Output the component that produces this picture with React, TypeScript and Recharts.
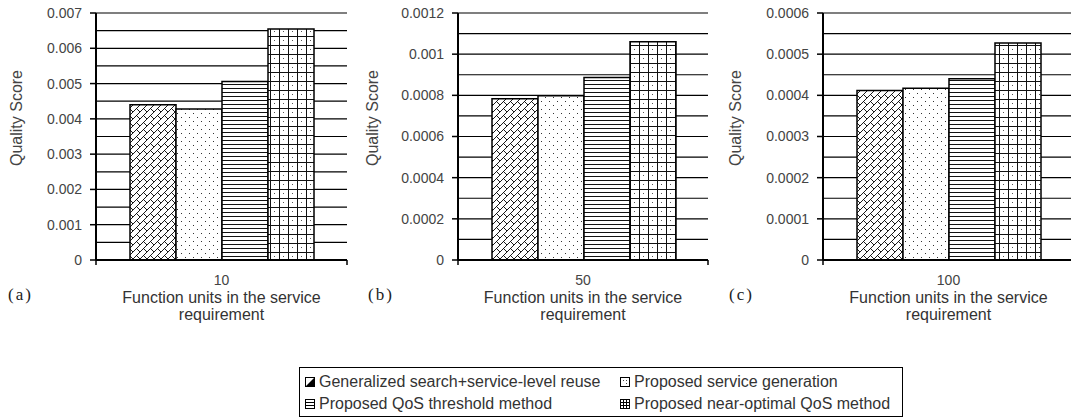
import { Bar, BarChart, CartesianGrid, XAxis, YAxis } from "recharts";

const CATEGORIES = ["10", "50", "100"];
const PANEL_TAGS = ["(a)", "(b)", "(c)"];

// one value per panel (10, 50, 100 function units)
const generalizedReuse = [0.0044, 0.000783, 0.000412];
const serviceGeneration = [0.00428, 0.000798, 0.000417];
const qosThreshold = [0.00506, 0.000887, 0.00044];
const nearOptimal = [0.00655, 0.00106, 0.000527];

const Y_TICKS_A = [0, 0.001, 0.002, 0.003, 0.004, 0.005, 0.006, 0.007];
const Y_TICKS_B = [0, 0.0002, 0.0004, 0.0006, 0.0008, 0.001, 0.0012];
const Y_TICKS_C = [0, 0.0001, 0.0002, 0.0003, 0.0004, 0.0005, 0.0006];

const SERIES = [
  { key: "reuse", name: "Generalized search+service-level reuse", values: generalizedReuse, fill: "url(#pat-brick)" },
  { key: "generation", name: "Proposed service generation", values: serviceGeneration, fill: "url(#pat-dots)" },
  { key: "threshold", name: "Proposed QoS threshold method", values: qosThreshold, fill: "url(#pat-hlines)" },
  { key: "optimal", name: "Proposed near-optimal QoS method", values: nearOptimal, fill: "url(#pat-grid)" },
];

const FONT = "'Liberation Sans', Arial, sans-serif";

const PANELS = [
  { left: 0, width: 360, axisW: 96, right: 13, ticks: Y_TICKS_A, tagX: 8, labelX: 17 },
  { left: 360, width: 360, axisW: 98, right: 12, ticks: Y_TICKS_B, tagX: 368, labelX: 373 },
  { left: 720, width: 354, axisW: 103, right: 0, ticks: Y_TICKS_C, tagX: 729, labelX: 736 },
];

function minorGrid(ticks: number[]) {
  const out: number[] = [];
  ticks.forEach((t, i) => {
    out.push(t);
    if (i < ticks.length - 1) out.push((t + ticks[i + 1]) / 2);
  });
  return out;
}

function Patterns() {
  return (
    <svg width={0} height={0} style={{ position: "absolute" }}>
      <defs>
        <pattern id="pat-brick" width={7} height={7} patternUnits="userSpaceOnUse">
          <rect width={7} height={7} fill="#fff" />
          <path d="M0,7 L7,0 M3.5,3.5 L7,7 M-1,1 L1,-1 M6,8 L8,6" stroke="#000" strokeWidth={0.9} />
        </pattern>
        <pattern id="pat-dots" width={8} height={8} patternUnits="userSpaceOnUse">
          <rect width={8} height={8} fill="#fff" />
          <rect x={1} y={1} width={1} height={1} fill="#333" />
          <rect x={5} y={5} width={1} height={1} fill="#333" />
        </pattern>
        <pattern id="pat-hlines" width={4} height={4} patternUnits="userSpaceOnUse">
          <rect width={4} height={4} fill="#fff" />
          <rect y={0} width={4} height={1} fill="#111" />
        </pattern>
        <pattern id="pat-grid" width={9} height={9} patternUnits="userSpaceOnUse">
          <rect width={9} height={9} fill="#fff" />
          <rect x={0} y={0} width={1} height={9} fill="#111" />
          <rect x={0} y={0} width={9} height={1} fill="#111" />
          <rect x={4} y={4} width={1} height={1} fill="#555" />
        </pattern>
      </defs>
    </svg>
  );
}

function LegendIcon({ kind }: { kind: string }) {
  let inner = null;
  if (kind === "reuse") inner = <path d="M1,9 L9,1 L9,9 Z" fill="#000" />;
  if (kind === "generation") inner = <path d="M3,3 h1 v1 h-1 Z M6,6 h1 v1 h-1 Z M6,3 h1 v1 h-1 Z" fill="#444" />;
  if (kind === "threshold") inner = <path d="M1,3.5 H9 M1,6.5 H9" stroke="#000" strokeWidth={1} />;
  if (kind === "optimal") inner = <path d="M1,3.5 H9 M1,6.5 H9 M3.5,1 V9 M6.5,1 V9" stroke="#000" strokeWidth={1} />;
  return (
    <svg width={10} height={10} style={{ marginRight: 4 }}>
      <rect x={0.5} y={0.5} width={9} height={9} fill="#fff" stroke="#000" strokeWidth={1} />
      {inner}
    </svg>
  );
}

function makeTick(half: number) {
  return function Tick(props: any) {
    const { x, y, payload } = props;
    return (
      <g>
        <line x1={x - half} x2={x - half} y1={y} y2={y + 5} stroke="#000" strokeWidth={1.5} />
        <line x1={x + half} x2={x + half} y1={y} y2={y + 5} stroke="#000" strokeWidth={1.5} />
        <text x={x} y={y + 25} textAnchor="middle" fontSize={14} fill="#444" fontFamily={FONT}>
          {payload.value}
        </text>
      </g>
    );
  };
}

function Panel({ index }: { index: number }) {
  const p = PANELS[index];
  const row: Record<string, number | string> = { name: CATEGORIES[index] };
  for (const s of SERIES) row[s.key] = s.values[index];
  const plotW = p.width - p.axisW - p.right;
  const top = p.ticks[p.ticks.length - 1];

  return (
    <div style={{ position: "absolute", left: p.left, top: 0 }}>
      <BarChart
        width={p.width}
        height={300}
        data={[row]}
        margin={{ top: 13, right: p.right, left: 0, bottom: 0 }}
        barCategoryGap={34}
        barGap={0}
      >
        <CartesianGrid
          vertical={false}
          horizontalValues={minorGrid(p.ticks)}
          stroke="#000"
          strokeWidth={1.2}
          strokeOpacity={1}
        />
        <XAxis
          dataKey="name"
          height={40}
          tickLine={false}
          tickSize={0}
          tickMargin={0}
          axisLine={{ stroke: "#000", strokeWidth: 2 }}
          tick={makeTick(plotW / 2)}
        />
        <YAxis
          width={p.axisW}
          domain={[0, top]}
          ticks={p.ticks}
          interval={0}
          tickSize={6}
          tickMargin={8}
          tickLine={{ stroke: "#000", strokeWidth: 1.5 }}
          axisLine={{ stroke: "#000", strokeWidth: 2 }}
          tick={{ fontSize: 14, fill: "#444", fontFamily: FONT }}
          tickFormatter={(v: number) => String(v)}
        />
        {SERIES.map((s) => (
          <Bar
            key={s.key}
            dataKey={s.key}
            name={s.name}
            fill={s.fill}
            stroke="#000"
            strokeWidth={1.5}
            isAnimationActive={false}
          />
        ))}
      </BarChart>
    </div>
  );
}

export default function App() {
  return (
    <div
      style={{
        position: "absolute",
        left: 0,
        top: 0,
        width: 1071,
        height: 420,
        overflow: "hidden",
        background: "#fff",
        fontFamily: FONT,
      }}
    >
      <Patterns />
      {PANELS.map((p, i) => (
        <Panel key={i} index={i} />
      ))}
      {PANELS.map((p, i) => {
        const cx = p.left + p.axisW + (p.width - p.axisW - p.right) / 2;
        return (
          <div key={"t" + i}>
            <div
              style={{
                position: "absolute",
                left: p.labelX - 60,
                top: 118 - 10,
                width: 120,
                height: 20,
                lineHeight: "20px",
                textAlign: "center",
                fontSize: 16,
                color: "#444",
                transform: "rotate(-90deg)",
              }}
            >
              Quality Score
            </div>
            <div
              style={{
                position: "absolute",
                left: p.tagX,
                top: 285,
                fontFamily: "'Liberation Serif', 'Times New Roman', serif",
                fontSize: 17,
                letterSpacing: 2,
                color: "#222",
              }}
            >
              {PANEL_TAGS[i]}
            </div>
            <div
              style={{
                position: "absolute",
                left: cx - 130,
                top: 289,
                width: 260,
                textAlign: "center",
                fontSize: 16,
                lineHeight: "17px",
                color: "#333",
              }}
            >
              Function units in the service
              <br />
              requirement
            </div>
          </div>
        );
      })}
      <div
        style={{
          position: "absolute",
          left: 299,
          top: 367,
          width: 604,
          height: 50,
          border: "1px solid #000",
          boxSizing: "border-box",
        }}
      />
      {SERIES.map((s, i) => {
        const col = i % 2;
        const rowIdx = Math.floor(i / 2);
        return (
          <div
            key={s.key}
            style={{
              position: "absolute",
              left: col === 0 ? 305 : 620,
              top: 373 + rowIdx * 22,
              height: 18,
              display: "flex",
              alignItems: "center",
              fontSize: 16,
              color: "#333",
              whiteSpace: "nowrap",
            }}
          >
            <LegendIcon kind={s.key} />
            {s.name}
          </div>
        );
      })}
    </div>
  );
}
